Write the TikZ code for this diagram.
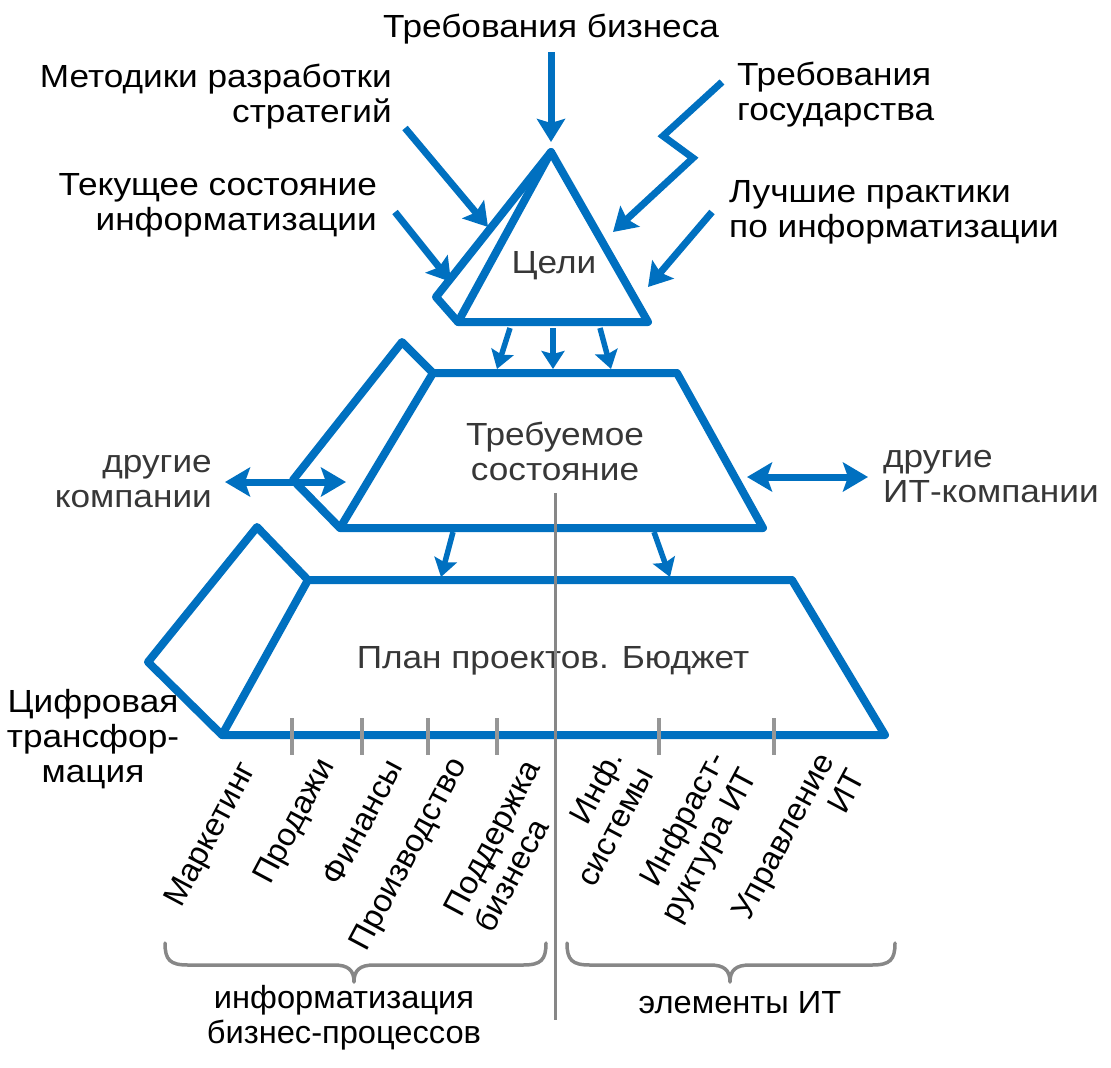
\documentclass[tikz,border=0pt]{standalone}
\usepackage{fontspec}
\setmainfont[FakeStretch=1.1]{Liberation Sans}
\newfontfamily\narrowfam[FakeStretch=1.02]{Liberation Sans}
\usetikzlibrary{arrows.meta}
\definecolor{bl}{RGB}{0,112,192}
\definecolor{dg}{RGB}{55,55,55}
\definecolor{lg}{RGB}{150,150,150}
\definecolor{mg}{RGB}{135,135,135}
\begin{document}
\begin{tikzpicture}[x=1pt,y=-1pt,
  shp/.style={draw=bl,line width=8pt,line join=round,line cap=round},
  arr/.style={draw=bl,line width=7pt,-{Stealth[length=23pt,width=28pt,inset=4pt]}},
  sarr/.style={draw=bl,line width=5.5pt,-{Stealth[length=18pt,width=23pt,inset=3pt]}},
  darr/.style={draw=bl,line width=7pt,{Stealth[length=25pt,width=29pt,inset=5pt]}-{Stealth[length=25pt,width=29pt,inset=5pt]}},
  txt/.style={font=\fontsize{32}{35}\selectfont,inner sep=0pt},
  ntxt/.style={font=\narrowfam\fontsize{32}{35}\selectfont,inner sep=0pt},
  rtxt/.style={ntxt,rotate=62},
  tick/.style={draw=lg,line width=3.5pt},
  brc/.style={draw=mg,line width=3.5pt,line cap=round,line join=round}
]
\useasboundingbox (0,0) rectangle (1111,1068);

% --- shapes
\coordinate (apex) at (551,152);
\coordinate (tr) at (648,322);
\coordinate (tl) at (458,322);
\coordinate (tf) at (436,297);
\draw[shp] (apex) -- (tr) -- (tl) -- cycle;
\draw[shp] (apex) -- (tf) -- (tl);

\coordinate (a1) at (433,373);
\coordinate (a2) at (677,373);
\coordinate (a3) at (763,528);
\coordinate (a4) at (340,528);
\coordinate (af1) at (402,342);
\coordinate (af2) at (293,480);
\draw[shp] (a1) -- (a2) -- (a3) -- (a4) -- cycle;
\draw[shp] (a1) -- (af1) -- (af2) -- (a4);

\coordinate (b1) at (308,580);
\coordinate (b2) at (792,580);
\coordinate (b3) at (885,735);
\coordinate (b4) at (222,735);
\coordinate (bf1) at (257,527);
\coordinate (bf2) at (148,662);
\draw[shp] (b1) -- (b2) -- (b3) -- (b4) -- cycle;
\draw[shp] (b1) -- (bf1) -- (bf2) -- (b4);

% --- text labels (multi-line nodes: base = last line)
\node[txt,anchor=base] (biz) at (551,37) {Требования бизнеса};
\node[txt,anchor=base east,align=right] (met) at (392,122) {Методики разработки\\стратегий};
\node[txt,anchor=base east,align=right] (cur) at (377,230) {Текущее состояние\\информатизации};
\node[txt,anchor=base west,align=left] (gos) at (737,120) {Требования\\государства};
\node[txt,anchor=base west,align=left] (best) at (729,237) {Лучшие практики\\по информатизации};
\node[txt,anchor=base,text=dg] (goal) at (554,273) {Цели};
\node[txt,anchor=base,align=center,text=dg] (req) at (555,480) {Требуемое\\состояние};
\node[txt,anchor=base,text=dg] (plan) at (553,668) {План проектов. Бюджет};
\node[txt,anchor=base east,align=right,text=dg] (oth) at (212,507) {другие\\компании};
\node[txt,anchor=base west,align=left,text=dg] (othit) at (883,502) {другие\\ИТ-компании};
\node[txt,anchor=base,align=center] (dig) at (93,782) {Цифровая\\трансфор-\\мация};
\node[ntxt,anchor=base,align=center] (bp) at (344,1043) {информатизация\\бизнес-процессов};
\node[ntxt,anchor=base] (itel) at (740,1013) {элементы ИТ};

% rotated labels
\node[rtxt] (l1) at (212,835) {Маркетинг};
\node[rtxt] (l2) at (296,822) {Продажи};
\node[rtxt] (l3) at (362,822) {Финансы};
\node[rtxt] (l4) at (410,855) {Производство};
\node[rtxt,align=left] (l5) at (507,846) {Поддержка\\бизнеса};
\node[rtxt,align=right] (l6) at (599,818) {Инф.\\системы};
\node[rtxt,align=right] (l7) at (695,838) {Инфраст-\\руктура ИТ};
\node[rtxt,align=right] (l8) at (798,844) {Управление\\ИТ};

% --- arrows into the goal triangle
\coordinate (s1) at (551,52);   \coordinate (e1) at (551,142);
\coordinate (s2) at (405,128);  \coordinate (e2) at (488,227);
\coordinate (s3) at (395,212);  \coordinate (e3) at (451,282);
\coordinate (s4) at (722,82);   \coordinate (z1) at (663,136);
\coordinate (z2) at (693,158);  \coordinate (e4) at (613,232);
\coordinate (s5) at (712,212);  \coordinate (e5) at (648,287);
\draw[arr] (s1) -- (e1);
\draw[arr] (s2) -- (e2);
\draw[arr] (s3) -- (e3);
\draw[arr,line join=miter] (s4) -- (z1) -- (z2) -- (e4);
\draw[arr] (s5) -- (e5);

% --- arrows between levels
\coordinate (g1) at (510,328); \coordinate (h1) at (497,369);
\coordinate (g2) at (553,328); \coordinate (h2) at (553,369);
\coordinate (g3) at (600,328); \coordinate (h3) at (611,369);
\draw[sarr] (g1) -- (h1);
\draw[sarr] (g2) -- (h2);
\draw[sarr] (g3) -- (h3);
\coordinate (k1) at (453,532); \coordinate (m1) at (441,577);
\coordinate (k2) at (654,532); \coordinate (m2) at (670,577);
\draw[sarr] (k1) -- (m1);
\draw[sarr] (k2) -- (m2);

% --- side double arrows
\coordinate (dl1) at (225,482); \coordinate (dl2) at (346,482);
\coordinate (dr1) at (747,477); \coordinate (dr2) at (868,477);
\draw[darr] (dl1) -- (dl2);
\draw[darr] (dr1) -- (dr2);

% --- ticks
\foreach \x in {292,362,428,497,659,774}
  \draw[tick] (\x,718) -- (\x,755);

% --- braces
\draw[brc] (165,943) .. controls (165,960) and (170,965) .. (188,965) -- (334,965)
  .. controls (348,965) and (354,970) .. (354,982)
  .. controls (354,970) and (360,965) .. (374,965) -- (523,965)
  .. controls (541,965) and (546,960) .. (546,943);
\draw[brc] (567,943) .. controls (567,960) and (572,965) .. (590,965) -- (710,965)
  .. controls (724,965) and (730,970) .. (730,982)
  .. controls (730,970) and (736,965) .. (750,965) -- (872,965)
  .. controls (890,965) and (895,960) .. (895,943);

% --- divider
\coordinate (v1) at (555,493); \coordinate (v2) at (555,1020);
\draw[draw=mg,line width=3pt] (v1) -- (v2);
\end{tikzpicture}
\end{document}
